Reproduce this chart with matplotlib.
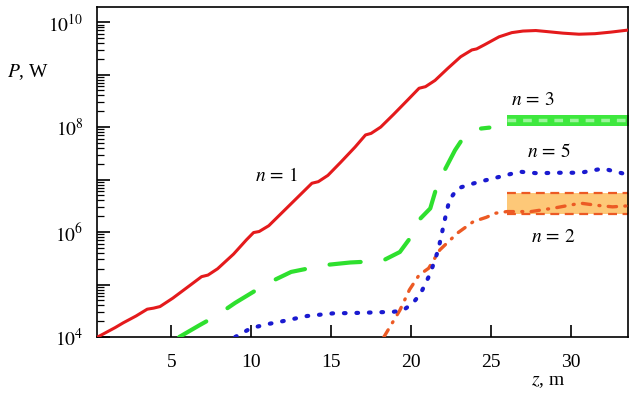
import numpy as np
import matplotlib
matplotlib.use("Agg")
from matplotlib import pyplot as plt
from matplotlib.ticker import LogLocator, FuncFormatter, NullFormatter

plt.rcParams['font.family'] = ['Liberation Serif', 'DejaVu Serif']
plt.rcParams['mathtext.fontset'] = 'stix'

# n = 1 (red, solid): z in m, log10(P / W)
z1 = [0.4, 1.5, 2.0, 2.8, 3.5, 3.9, 4.3, 5.1, 6.2, 6.9, 7.3, 7.9, 8.9, 9.7, 10.15,
      10.5, 11.1, 11.9, 12.9, 13.8, 14.2, 14.8, 15.6, 16.5, 17.15, 17.5, 18.1, 18.9,
      19.8, 20.5, 20.9, 21.5, 22.3, 23.1, 23.8, 24.1, 24.6, 25.5, 26.3, 27.0, 27.8,
      28.5, 29.5, 30.5, 31.5, 32.5, 33.6]
logp1 = [4.00, 4.18, 4.27, 4.40, 4.53, 4.55, 4.58, 4.74, 4.99, 5.15, 5.18, 5.30, 5.58,
         5.85, 5.99, 6.01, 6.12, 6.36, 6.66, 6.93, 6.96, 7.08, 7.33, 7.62, 7.85, 7.88,
         8.00, 8.24, 8.52, 8.74, 8.77, 8.89, 9.12, 9.34, 9.47, 9.49, 9.57, 9.72, 9.80,
         9.83, 9.84, 9.82, 9.79, 9.77, 9.78, 9.81, 9.85]

# n = 3 (green, dashed)
z3 = [5.5, 6.8, 7.8, 9.0, 11.0, 12.5, 14.6, 16.2, 18.2, 19.3, 20.0, 20.4, 21.2,
      21.6, 22.1, 22.75, 23.25, 23.7, 24.3, 24.9]
logp3 = [4.00, 4.23, 4.40, 4.65, 5.02, 5.24, 5.37, 5.42, 5.45, 5.62, 5.91, 6.20,
         6.45, 6.86, 7.18, 7.56, 7.79, 7.90, 7.97, 7.99]

# n = 5 (blue, dotted)
z5 = [9.0, 10.0, 11.1, 11.8, 13.5, 15.1, 16.8, 18.9, 19.5, 20.1, 20.6, 21.2, 21.7,
      22.2, 22.4, 22.9, 23.6, 24.3, 25.5, 26.8, 27.9, 29.1, 30.6, 32.0, 33.6]
logp5 = [4.00, 4.17, 4.25, 4.29, 4.40, 4.45, 4.46, 4.48, 4.51, 4.64, 4.83, 5.21,
         5.66, 6.36, 6.61, 6.83, 6.90, 6.96, 7.05, 7.15, 7.12, 7.13, 7.13, 7.21, 7.09]

# n = 2 (orange, dash-dot)
z2 = [18.3, 19.3, 19.9, 20.5, 21.1, 21.8, 22.9, 23.9, 24.7, 25.3, 26.0, 27.5, 29.0,
      30.6, 31.6, 32.6, 33.6]
logp2 = [4.00, 4.51, 4.90, 5.18, 5.31, 5.66, 5.98, 6.20, 6.28, 6.36, 6.39, 6.39,
         6.46, 6.55, 6.51, 6.48, 6.50]

# shaded bands at the end (z from 26 m): log10 P limits
band_z = [26.0, 34.0]
band3 = [8.03, 8.23]
band2 = [6.34, 6.74]

red = '#e41a1c'
green = '#2ee02e'
blue = '#1a1ad0'
orange = '#ec5a24'

fig = plt.figure(figsize=(6.44, 3.96), dpi=100)
ax = fig.add_axes([0.151, 0.149, 0.824, 0.833])

ax.fill_between(band_z, 10**band3[0], 10**band3[1], color='#3ee83e', lw=0, zorder=1)
ax.fill_between(band_z, 10**band2[0], 10**band2[1], color='#fdc878', lw=0, zorder=1)
ax.plot(band_z, [10**np.mean(band3)] * 2, color='#9af59a', lw=2.5, ls=(0, (2.5, 2)), zorder=2)
for v in band2:
    ax.plot(band_z, [10**v] * 2, color=orange, lw=1.6, ls=(0, (4, 2.5)), zorder=2)

ax.plot(z1, 10**np.array(logp1), color=red, lw=2.2, zorder=5)
ax.plot(z3, 10**np.array(logp3), color=green, lw=3, ls=(0, (7.5, 6)),
        dash_capstyle='round', zorder=4)
ax.plot(z5, 10**np.array(logp5), color=blue, lw=3, ls=(0, (0.4, 2.6)),
        dash_capstyle='round', zorder=4)
ax.plot(z2, 10**np.array(logp2), color=orange, lw=2.4, ls=(0, (2.5, 2.5, 0.3, 2.5)),
        dash_capstyle='round', zorder=3)

ax.set_yscale('log')
ax.set_xlim(0.375, 33.56)
ax.set_ylim(1e4, 10**10.286)

ax.set_xticks([5, 10, 15, 20, 25, 30])
ax.yaxis.set_major_locator(LogLocator(base=10, numticks=20))
ax.yaxis.set_minor_locator(LogLocator(base=10, subs=np.arange(2, 10), numticks=20))
ax.yaxis.set_major_formatter(FuncFormatter(
    lambda v, p: r'$10^{%d}$' % round(np.log10(v)) if round(np.log10(v)) % 2 == 0 else ''))
ax.yaxis.set_minor_formatter(NullFormatter())

ax.tick_params(axis='both', which='major', direction='in', length=9, width=1.2,
               labelsize=14, top=False, right=False)
ax.tick_params(axis='y', which='minor', direction='in', length=5, width=0.9, right=False)
ax.tick_params(axis='x', pad=12)
ax.tick_params(axis='y', pad=10)
for s in ax.spines.values():
    s.set_linewidth(1.2)

ax.text(11.6, 10**7.07, r'$n\,=\,1$', fontsize=14, ha='center', va='center')
ax.text(27.6, 10**8.51, r'$n\,=\,3$', fontsize=14, ha='center', va='center')
ax.text(28.6, 10**7.52, r'$n\,=\,5$', fontsize=14, ha='center', va='center')
ax.text(28.9, 10**5.90, r'$n\,=\,2$', fontsize=14, ha='center', va='center')

fig.text(28 / 644, 1 - 72 / 396, r'$P$, W', fontsize=14, ha='center', va='center')
fig.text(548 / 644, 1 - 381 / 396, r'$z$, m', fontsize=14, ha='center', va='center')

fig.savefig('out.png', dpi=100)
